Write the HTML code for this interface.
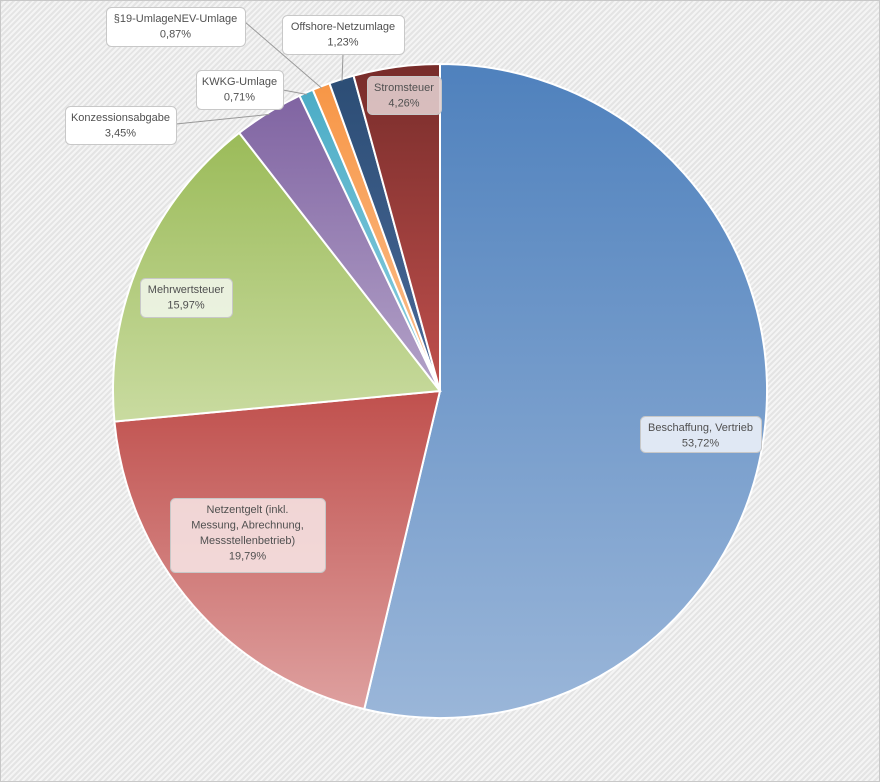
<!DOCTYPE html>
<html><head><meta charset="utf-8"><style>
html,body{margin:0;padding:0}
body{width:880px;height:782px;overflow:hidden;font-family:"Liberation Sans",sans-serif}
#bg{position:absolute;left:0;top:0;width:878px;height:780px;border:1px solid #c8c8c8;
background:repeating-linear-gradient(135deg,#e4e4e4 0px,#e4e4e4 2px,#f4f4f4 2px,#f4f4f4 4px)}
svg{position:absolute;left:0;top:0}
text{font-family:"Liberation Sans",sans-serif;font-size:11px;fill:#505050}
</style></head><body>
<div id="bg"></div>
<svg id="chart" width="880" height="782"><defs id="defs"></defs></svg>
<script>
const categories=["Beschaffung, Vertrieb","Netzentgelt (inkl. Messung, Abrechnung, Messstellenbetrieb)","Mehrwertsteuer","Konzessionsabgabe","KWKG-Umlage","§19-UmlageNEV-Umlage","Offshore-Netzumlage","Stromsteuer"];
const values=[53.72,19.79,15.97,3.45,0.71,0.87,1.23,4.26];
const valueLabels=["53,72%","19,79%","15,97%","3,45%","0,71%","0,87%","1,23%","4,26%"];
const colorsTop=["#4f81bd","#c0504d","#9bbb59","#8064a2","#4bacc6","#f79646","#2c4d75","#772c2a"];
const colorsBot=["#9ab6d9","#dea09f","#c9dba0","#b3a2c8","#8fd0e0","#fbc08f","#4a6a99","#c0504d"];
const labelBg=["rgba(235,240,248,0.9)","rgba(245,225,225,0.9)","rgba(240,245,232,0.9)","#fff","#fff","#fff","#fff","rgba(225,205,205,0.9)"];
// label layout: [boxX, boxY, boxW, boxH, lines]
const labelBoxes=[
 [640,416,121,36,["Beschaffung,  Vertrieb"]],
 [170,498,155,74,["Netzentgelt  (inkl.","Messung,  Abrechnung,","Messstellenbetrieb)"]],
 [140,278,92,39,["Mehrwertsteuer"]],
 [65,106,111,38,["Konzessionsabgabe"]],
 [196,70,87,39,["KWKG-Umlage"]],
 [106,7,139,39,["§19-UmlageNEV-Umlage"]],
 [282,15,122,39,["Offshore-Netzumlage"]],
 [367,76,74,38,["Stromsteuer"]]
];
const cx=440,cy=391,r=327;
const svg=document.getElementById('chart'),defs=document.getElementById('defs');
const NS="http://www.w3.org/2000/svg";
const total=values.reduce((a,b)=>a+b,0);
function pt(a,rr){return [cx+rr*Math.sin(a),cy-rr*Math.cos(a)];}
let acc=0;const mids=[];
values.forEach((v,i)=>{
 const a0=acc/total*2*Math.PI;acc+=v;const a1=acc/total*2*Math.PI;mids.push((a0+a1)/2);
 const g=document.createElementNS(NS,'linearGradient');g.id='g'+i;g.setAttribute('x1','0');g.setAttribute('y1','0');g.setAttribute('x2','0');g.setAttribute('y2','1');
 g.innerHTML=`<stop offset="0" stop-color="${colorsTop[i]}"/><stop offset="1" stop-color="${colorsBot[i]}"/>`;
 defs.appendChild(g);
 const p0=pt(a0,r),p1=pt(a1,r);
 const path=document.createElementNS(NS,'path');
 path.setAttribute('d',`M${cx},${cy}L${p0[0]},${p0[1]}A${r},${r} 0 ${a1-a0>Math.PI?1:0} 1 ${p1[0]},${p1[1]}Z`);
 path.setAttribute('fill',`url(#g${i})`);path.setAttribute('stroke','#fff');path.setAttribute('stroke-width','2');
 
 
 svg.appendChild(path);
});
// leader lines for small outside labels
[[3,176,124],[4,283,90],[5,245,22],[6,343,54]].forEach(([i,x,y])=>{
 const p=pt(mids[i],r-2);
 const l=document.createElementNS(NS,'polyline');
 l.setAttribute('points',`${x},${y} ${p[0]},${p[1]}`);l.setAttribute('stroke','#999');l.setAttribute('fill','none');
 
 
 svg.appendChild(l);
});
labelBoxes.forEach((b,i)=>{
 const [x,y,w,h,lines]=b;
 const g=document.createElementNS(NS,'g');
 
 
 const rc=document.createElementNS(NS,'rect');
 rc.setAttribute('x',x+0.5);rc.setAttribute('y',y+0.5);rc.setAttribute('width',w);rc.setAttribute('height',h);rc.setAttribute('rx',5);
 rc.setAttribute('fill',labelBg[i]);rc.setAttribute('stroke','#c8c8c8');
 g.appendChild(rc);
 const all=lines.concat([valueLabels[i]]);
 all.forEach((t,k)=>{
  const tx=document.createElementNS(NS,'text');
  tx.setAttribute('x',x+w/2);tx.setAttribute('y',y+15+k*15.5);tx.setAttribute('text-anchor','middle');
  tx.setAttribute('xml:space','preserve');tx.textContent=t;g.appendChild(tx);
 });
 svg.appendChild(g);
});
</script>
</body></html>
